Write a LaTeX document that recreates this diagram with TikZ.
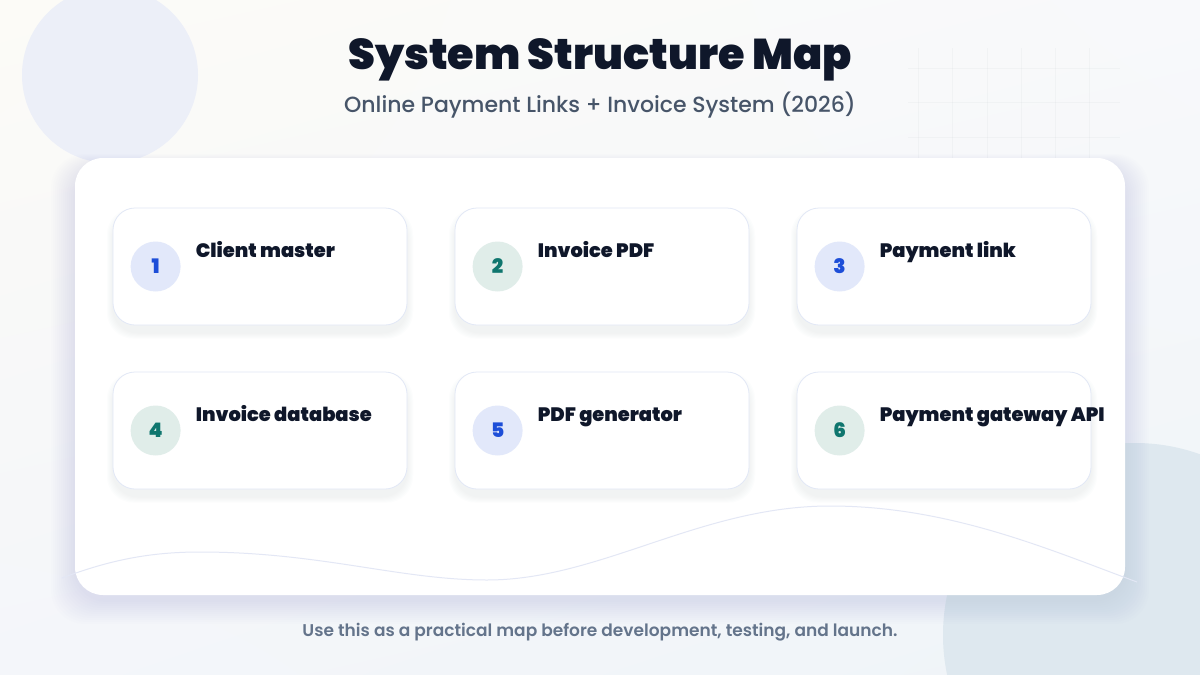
\documentclass[tikz,border=0pt]{standalone}
\usepackage{fontspec}
\setmainfont{Poppins}
\newfontfamily\blackfont{Poppins Black}
\newfontfamily\medfont{Poppins Medium}
\newfontfamily\semifont{Poppins SemiBold}
\usetikzlibrary{shadings}

\definecolor{title_ink}{HTML}{0F172A}
\definecolor{sub_ink}{HTML}{475569}
\definecolor{foot_ink}{HTML}{64748B}
\definecolor{card_edge}{HTML}{E2E8F6}
\definecolor{blue_fill}{HTML}{E2E8FA}
\definecolor{blue_ink}{HTML}{1D4ED8}
\definecolor{teal_fill}{HTML}{E0EDE9}
\definecolor{teal_ink}{HTML}{0F766E}
\definecolor{shadow_tint}{HTML}{7C8AA8}
\definecolor{wave_line}{HTML}{E3E7F5}
\definecolor{bg_ul}{HTML}{FCFBF7}
\definecolor{bg_ur}{HTML}{F8F9FB}
\definecolor{bg_ll}{HTML}{F4F6FA}
\definecolor{bg_lr}{HTML}{EFF4F8}
\definecolor{blob_left}{HTML}{ECEFF8}
\definecolor{blob_right}{HTML}{DEE8EF}

\begin{document}
\begin{tikzpicture}[x=1pt,y=-1pt,
  panel/.style={fill=white,rounded corners=28pt,minimum width=1050pt,minimum height=437pt,inner sep=0pt},
  card/.style={draw=card_edge,fill=white,line width=0.8pt,rounded corners=22pt,minimum width=294pt,minimum height=117pt,inner sep=0pt},
  badge/.style={circle,minimum size=50pt,inner sep=0pt,font=\blackfont\fontsize{20}{20}\selectfont},
  cardtitle/.style={anchor=base west,inner sep=0pt,text=title_ink,font=\blackfont\fontsize{19.4}{19.4}\selectfont}]
\useasboundingbox (0,0) rectangle (1200,675);

% background
\shade[upper left=bg_ul,upper right=bg_ur,lower left=bg_ll,lower right=bg_lr] (0,0) rectangle (1200,675);
\fill[blob_left] (110,75) circle [radius=88];
\fill[blob_right] (1135,635) circle [radius=192];
\foreach \gx in {918,952,987,1021,1055,1089}{
\draw[sub_ink,opacity=0.035,line width=0.6pt] (\gx,48) -- (\gx,158);
}
\foreach \gy in {68,102,137}{
\draw[sub_ink,opacity=0.035,line width=0.6pt] (908,\gy) -- (1120,\gy);
}

% panel and its shadow
\foreach \k in {1,...,12}{
\fill[shadow_tint,opacity=0.012,rounded corners=34pt] ({75-2*\k},{166-\k}) rectangle ({1125+2*\k},{600+2*\k});
}
\node[panel] (panel) at (600,376.5) {};
\draw[wave_line,line width=1pt] (62,578) .. controls (110,560) and (150,552) .. (200,552)
  .. controls (320,552) and (400,580) .. (487,580)
  .. controls (600,580) and (700,506) .. (830,506)
  .. controls (950,506) and (1050,550) .. (1137,582);

% titles
\node[text=title_ink,font=\blackfont\fontsize{43}{43}\selectfont] (title) at (600,60) {System Structure Map};
\node[text=sub_ink,font=\medfont\fontsize{22}{22}\selectfont] (subtitle) at (600,105) {Online Payment Links + Invoice System (2026)};

% cards
\foreach \i/\x/\y/\tone/\txt in {1/260/266.5/blue/Client master,2/602/266.5/teal/Invoice PDF,3/944/266.5/blue/Payment link,
  4/260/430.5/teal/Invoice database,5/602/430.5/blue/PDF generator,6/944/430.5/teal/Payment gateway API}{
\foreach \k in {1,...,6}{
\fill[shadow_tint,opacity=0.014,rounded corners=26pt] ({\x-147-\k},{\y-52-\k}) rectangle ({\x+147+\k},{\y+66+\k});
}
\node[card] (card\i) at (\x,\y) {};
\node[badge,fill=\tone_fill,text=\tone_ink] (num\i) at ([xshift=43pt]card\i.west) {\i};
\node[cardtitle] (label\i) at ([xshift=83pt,yshift=-50pt]card\i.north west) {\txt};
}

\node[text=foot_ink,font=\semifont\fontsize{17}{17}\selectfont] (footer) at (600,632) {Use this as a practical map before development, testing, and launch.};
\end{tikzpicture}
\end{document}
